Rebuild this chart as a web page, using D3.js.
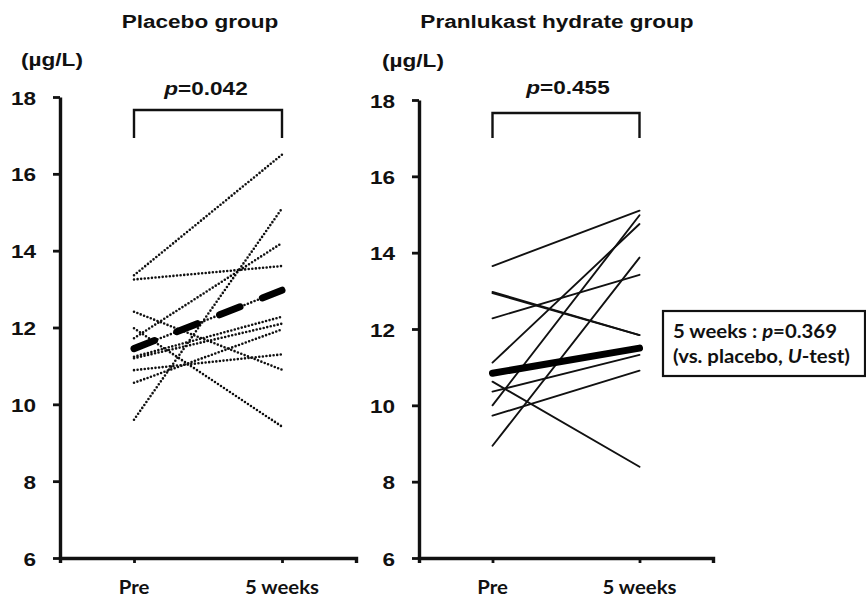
<!DOCTYPE html>
<html>
<head>
<meta charset="utf-8">
<script src="https://cdn.jsdelivr.net/npm/d3@7"></script>
<style>
  html, body { margin: 0; padding: 0; background: #fff; }
  svg { display: block; }
</style>
</head>
<body>
<svg id="chart" width="866" height="598"></svg>
<script>
// ---- data (µg/L) ----
const timepoints = ['Pre', '5 weeks'];
const yTicks = [6, 8, 10, 12, 14, 16, 18];

const placeboPre  = [13.36, 13.25, 12.41, 11.98, 11.72, 11.45, 11.24, 11.20, 10.89, 10.56, 9.60];
const placeboWk5  = [16.50, 13.60, 10.90,  9.42, 14.20, 12.97, 12.28, 12.10, 11.30, 11.95, 15.10];
const placeboMean = [11.45, 12.97];

const pranPre  = [13.65, 12.97, 12.94, 12.28, 11.12, 10.62, 10.36, 10.00, 9.73, 8.94];
const pranWk5  = [15.10, 11.84, 11.84, 13.42, 14.75,  8.39, 11.32, 14.98, 10.91, 13.87];
const pranMean = [10.84, 11.50];

const titles = ['Placebo group', 'Pranlukast hydrate group'];
const pValues = ['0.042', '0.455'];

const svg = d3.select('#chart');
const SX = 1.22;   // the original figure is stretched horizontally

function txt(g, x, y, anchor, family, size, sx) {
  return g.append('text')
    .attr('transform', `translate(${x},${y}) scale(${sx},1)`)
    .attr('text-anchor', anchor)
    .attr('font-family', family)
    .attr('font-weight', 'bold')
    .attr('font-size', size)
    .attr('fill', '#111');
}

const ARIAL = '"Liberation Sans", Arial, sans-serif';
const CALIBRI = 'Lato, Carlito, Calibri, sans-serif';

function panel(cfg) {
  const g = svg.append('g');
  const y = d3.scaleLinear().domain([6, 18]).range([558, cfg.top]);
  const x = d3.scalePoint().domain(timepoints).range([cfg.left, cfg.right]).padding(0.5);

  // y axis
  g.append('g')
    .attr('transform', `translate(${cfg.left},0)`)
    .call(d3.axisLeft(y).tickValues(yTicks).tickSize(7).tickSizeOuter(0).tickFormat(''))
    .call(a => a.select('.domain').attr('stroke', '#111').attr('stroke-width', 3.4))
    .call(a => a.selectAll('.tick line').attr('stroke', '#111').attr('stroke-width', 2.8));

  yTicks.forEach(v => {
    txt(g, cfg.left - 24, y(v) + 7.5, 'end', ARIAL, 18.5, SX).text(v);
  });

  // x axis
  g.append('g')
    .attr('transform', `translate(0,558)`)
    .call(d3.axisBottom(x).tickSize(5).tickSizeOuter(5).tickFormat(''))
    .call(a => a.select('.domain').attr('stroke', '#111').attr('stroke-width', 3.4))
    .call(a => a.selectAll('.tick line').attr('stroke', '#111').attr('stroke-width', 2.8));

  timepoints.forEach(t => {
    txt(g, x(t), 594, 'middle', CALIBRI, 18.5, 1.1).text(t);
  });

  // subject lines
  const line = d3.line().x((d, i) => x(timepoints[i])).y(d => y(d));
  const subjects = cfg.pre.map((v, i) => [v, cfg.wk5[i]]);
  g.append('g').selectAll('path')
    .data(subjects)
    .join('path')
    .attr('d', line)
    .attr('fill', 'none')
    .attr('stroke', '#111')
    .attr('stroke-width', cfg.dotted ? 2.6 : 1.9)
    .attr('stroke-linecap', 'round')
    .attr('stroke-dasharray', cfg.dotted ? '0 3.6' : null);

  // group mean
  g.append('path')
    .datum(cfg.mean)
    .attr('d', line)
    .attr('fill', 'none')
    .attr('stroke', '#000')
    .attr('stroke-width', 7)
    .attr('stroke-linecap', 'round')
    .attr('stroke-dasharray', cfg.dotted ? '22 24' : null);

  // bracket + p value
  const x0 = x(timepoints[0]), x1 = x(timepoints[1]);
  g.append('path')
    .attr('d', `M${x0},138V${cfg.bracketTop}H${x1}V138`)
    .attr('fill', 'none')
    .attr('stroke', '#111')
    .attr('stroke-width', 2.4);

  const p = txt(g, cfg.pX, cfg.pY, 'middle', ARIAL, 18.5, SX);
  p.append('tspan').attr('font-style', 'italic').text('p');
  p.append('tspan').text('=' + cfg.p);

  // title and unit
  txt(g, cfg.titleX, 28, 'middle', ARIAL, 18.5, SX).text(cfg.title);
  txt(g, cfg.unitX, cfg.unitY, 'middle', ARIAL, 18.5, SX).text('(µg/L)');
  return g;
}

panel({
  left: 60, right: 356, top: 97, dotted: true,
  pre: placeboPre, wk5: placeboWk5, mean: placeboMean,
  bracketTop: 110, p: pValues[0], pX: 206, pY: 95,
  title: titles[0], titleX: 200, unitX: 52, unitY: 66
});

panel({
  left: 419, right: 713, top: 100, dotted: false,
  pre: pranPre, wk5: pranWk5, mean: pranMean,
  bracketTop: 113, p: pValues[1], pX: 568, pY: 94,
  title: titles[1], titleX: 557, unitX: 413, unitY: 67
});

// comparison box
const box = svg.append('g');
box.append('rect')
  .attr('x', 663).attr('y', 311).attr('width', 202).attr('height', 65)
  .attr('fill', '#fff').attr('stroke', '#111').attr('stroke-width', 2.2);
const l1 = txt(box, 673, 338, 'start', CALIBRI, 18.5, 1.1);
l1.append('tspan').text('5 weeks : ');
l1.append('tspan').attr('font-style', 'italic').text('p');
l1.append('tspan').text('=0.369');
const l2 = txt(box, 673, 363, 'start', CALIBRI, 18.5, 1.1);
l2.append('tspan').text('(vs. placebo, ');
l2.append('tspan').attr('font-style', 'italic').text('U');
l2.append('tspan').text('-test)');
</script>
</body>
</html>
